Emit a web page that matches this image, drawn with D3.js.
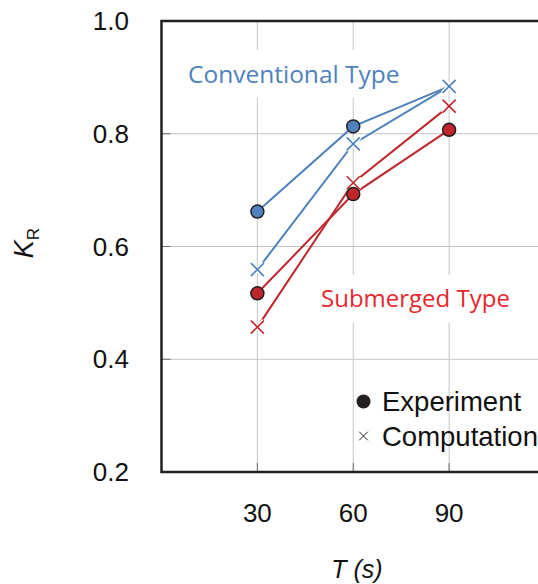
<!DOCTYPE html>
<html>
<head>
<meta charset="utf-8">
<script src="https://cdn.jsdelivr.net/npm/d3@7"></script>
<style>
  body { margin: 0; background: #fff; }
  svg { display: block; }
</style>
</head>
<body>
<div id="chart"></div>
<script>
// data
const periods = [30, 60, 90];
const convExperiment = [0.662, 0.813];          // T = 30, 60 (line ends on computation at 90)
const convComputation = [0.559, 0.782, 0.884];
const subExperiment = [0.517, 0.693, 0.807];
const subComputation = [0.457, 0.713, 0.849];
const yTicks = [0.2, 0.4, 0.6, 0.8, 1.0];
const xTicks = [30, 60, 90];

const blue = '#4f81bd';
const red = '#c0262d';
const dark = '#231f20';

let width = 538, height = 584;
let plot = {left: 161.5, top: 21, right: 545, bottom: 472};

let svg = d3.select('#chart')
            .append('svg')
            .attr('width', width)
            .attr('height', height);

let x = d3.scaleLinear().domain([0, 120]).range([plot.left, plot.right]);
let y = d3.scaleLinear().domain([0.2, 1.0]).range([plot.bottom, plot.top]);

// grid
svg.append('g')
   .selectAll('line')
   .data(xTicks)
   .enter()
   .append('line')
   .attr('x1', (d) => x(d)).attr('x2', (d) => x(d))
   .attr('y1', plot.top).attr('y2', plot.bottom)
   .attr('stroke', '#c4c4c4').attr('stroke-width', 1);

svg.append('g')
   .selectAll('line')
   .data(yTicks.filter((d) => d > 0.2 && d < 1.0))
   .enter()
   .append('line')
   .attr('x1', plot.left).attr('x2', width)
   .attr('y1', (d) => y(d)).attr('y2', (d) => y(d))
   .attr('stroke', '#c4c4c4').attr('stroke-width', 1);

// small inner ticks
svg.append('g')
   .selectAll('line')
   .data(yTicks.filter((d) => d > 0.2 && d < 1.0))
   .enter()
   .append('line')
   .attr('x1', plot.left).attr('x2', plot.left + 9)
   .attr('y1', (d) => y(d)).attr('y2', (d) => y(d))
   .attr('stroke', '#6d6d6d').attr('stroke-width', 1);

svg.append('g')
   .selectAll('line')
   .data(xTicks)
   .enter()
   .append('line')
   .attr('x1', (d) => x(d)).attr('x2', (d) => x(d))
   .attr('y1', plot.bottom - 9).attr('y2', plot.bottom)
   .attr('stroke', '#6d6d6d').attr('stroke-width', 1);

// white boxes behind the two series labels
svg.append('rect').attr('x', 184).attr('y', 50).attr('width', 222).attr('height', 48).attr('fill', '#fff');
svg.append('rect').attr('x', 316).attr('y', 275).attr('width', 200).attr('height', 48).attr('fill', '#fff');

svg.append('text')
   .attr('x', 188).attr('y', 83)
   .attr('font-family', 'Open Sans, Noto Sans, sans-serif')
   .attr('font-size', 24.5)
   .attr('fill', blue)
   .text('Conventional Type');

svg.append('text')
   .attr('x', 321).attr('y', 307)
   .attr('font-family', 'Open Sans, Noto Sans, sans-serif')
   .attr('font-size', 24)
   .attr('fill', '#e8272d')
   .text('Submerged Type');

// lines
let line = d3.line().x((d) => x(d[0])).y((d) => y(d[1]));
let pts = (vals) => vals.map((v, i) => [periods[i], v]);

let convExpPts = pts(convExperiment).concat([[periods[2], convComputation[2]]]);

let lines = [
  {p: convExpPts, c: blue},
  {p: pts(convComputation), c: blue},
  {p: pts(subExperiment), c: red},
  {p: pts(subComputation), c: red}
];

svg.append('g')
   .selectAll('path')
   .data(lines)
   .enter()
   .append('path')
   .attr('d', (d) => line(d.p))
   .attr('fill', 'none')
   .attr('stroke', (d) => d.c)
   .attr('stroke-width', 2);

// cross markers
function cross(g, cx, cy, s, color, sw, halo) {
  let d = 'M' + (cx - s) + ',' + (cy - s) + 'L' + (cx + s) + ',' + (cy + s) +
          'M' + (cx - s) + ',' + (cy + s) + 'L' + (cx + s) + ',' + (cy - s);
  if (halo) {
    g.append('path').attr('d', d).attr('stroke', '#fff').attr('stroke-width', sw + 3);
  }
  g.append('path').attr('d', d).attr('stroke', color).attr('stroke-width', sw);
}

let marks = svg.append('g');
pts(convComputation).forEach((p) => cross(marks, x(p[0]), y(p[1]), 6.5, blue, 1.6, true));
pts(subComputation).forEach((p) => cross(marks, x(p[0]), y(p[1]), 6.5, red, 1.6, true));

marks.selectAll('circle.conv')
     .data(pts(convExperiment))
     .enter()
     .append('circle')
     .attr('cx', (d) => x(d[0])).attr('cy', (d) => y(d[1]))
     .attr('r', 6.5)
     .attr('fill', blue).attr('stroke', dark).attr('stroke-width', 1.5);

marks.selectAll('circle.sub')
     .data(pts(subExperiment))
     .enter()
     .append('circle')
     .attr('cx', (d) => x(d[0])).attr('cy', (d) => y(d[1]))
     .attr('r', 6.5)
     .attr('fill', red).attr('stroke', dark).attr('stroke-width', 1.5);

// frame
svg.append('path')
   .attr('d', 'M' + width + ',' + plot.top + 'H' + plot.left + 'V' + plot.bottom + 'H' + width)
   .attr('fill', 'none')
   .attr('stroke', dark)
   .attr('stroke-width', 2.5);

// tick labels
svg.append('g')
   .selectAll('text')
   .data(yTicks)
   .enter()
   .append('text')
   .attr('x', 129).attr('y', (d) => y(d))
   .attr('dy', '0.35em')
   .attr('text-anchor', 'end')
   .attr('font-family', 'Liberation Sans, Arial, sans-serif')
   .attr('font-size', 26)
   .attr('fill', '#111')
   .text((d) => d3.format('.1f')(d));

svg.append('g')
   .selectAll('text')
   .data(xTicks)
   .enter()
   .append('text')
   .attr('x', (d) => x(d)).attr('y', 522)
   .attr('text-anchor', 'middle')
   .attr('font-family', 'Liberation Sans, Arial, sans-serif')
   .attr('font-size', 26)
   .attr('fill', '#111')
   .text((d) => d);

// axis titles
svg.append('text')
   .attr('x', 357).attr('y', 578)
   .attr('text-anchor', 'middle')
   .attr('font-family', 'Liberation Sans, Arial, sans-serif')
   .attr('font-size', 25)
   .attr('font-style', 'italic')
   .attr('fill', '#111')
   .text('T (s)');

let yt = svg.append('text')
   .attr('transform', 'translate(33,243) rotate(-90)')
   .attr('text-anchor', 'middle')
   .attr('font-family', 'Liberation Sans, Arial, sans-serif')
   .attr('fill', '#111');
yt.append('tspan').attr('font-size', 27).attr('font-style', 'italic').text('K');
yt.append('tspan').attr('font-size', 17).attr('dy', 6).text('R');

// legend
let lg = svg.append('g');
lg.append('circle').attr('cx', 363.5).attr('cy', 401.5).attr('r', 7).attr('fill', dark);
cross(lg, 363.5, 436, 4.3, dark, 1, false);
lg.append('text')
  .attr('x', 382).attr('y', 401.5).attr('dy', '0.35em')
  .attr('font-family', 'Liberation Sans, Arial, sans-serif')
  .attr('font-size', 27.5).attr('fill', '#111')
  .text('Experiment');
lg.append('text')
  .attr('x', 382).attr('y', 436).attr('dy', '0.35em')
  .attr('font-family', 'Liberation Sans, Arial, sans-serif')
  .attr('font-size', 27.5).attr('fill', '#111')
  .text('Computation');
</script>
</body>
</html>
